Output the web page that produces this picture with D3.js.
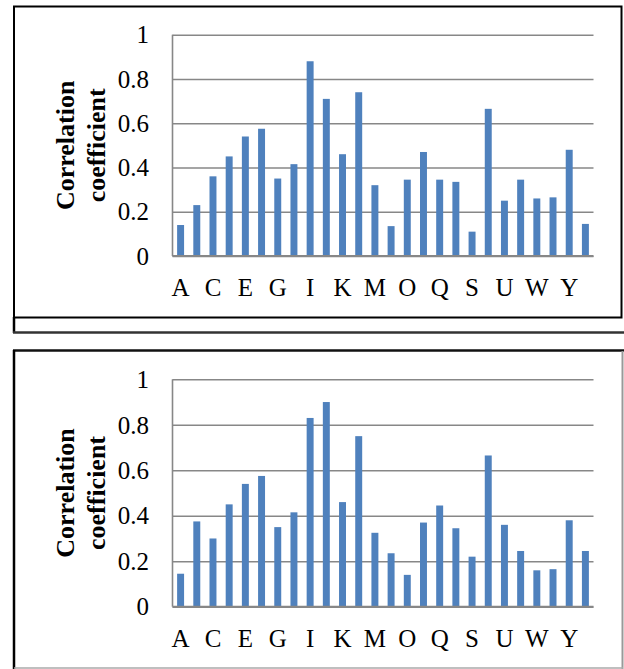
<!DOCTYPE html>
<html>
<head>
<meta charset="utf-8">
<script src="https://cdn.jsdelivr.net/npm/d3@7"></script>
<style>
  html, body { margin: 0; padding: 0; background: #fff; }
  svg { display: block; font-family: "Liberation Serif", "Times New Roman", serif; }
</style>
</head>
<body>
<svg id="chart" width="624" height="669"></svg>
<script>
// amino acid letters, one bar each
var categories = ["A","B","C","D","E","F","G","H","I","J","K","L","M",
                  "N","O","P","Q","R","S","T","U","V","W","X","Y","Z"];

// upper panel
var corrTop = [0.14, 0.23, 0.36, 0.45, 0.54, 0.575, 0.35, 0.415, 0.88, 0.71, 0.46, 0.74, 0.32,
               0.135, 0.345, 0.47, 0.345, 0.335, 0.11, 0.665, 0.25, 0.345, 0.26, 0.265, 0.48, 0.145];

// lower panel
var corrBottom = [0.145, 0.375, 0.30, 0.45, 0.54, 0.575, 0.35, 0.415, 0.83, 0.90, 0.46, 0.75, 0.325,
                  0.235, 0.14, 0.37, 0.445, 0.345, 0.22, 0.665, 0.36, 0.245, 0.16, 0.165, 0.38, 0.245];

var yTicks = [0, 0.2, 0.4, 0.6, 0.8, 1];
var yTickLabels = ["0", "0.2", "0.4", "0.6", "0.8", "1"];
var yTitle = ["Correlation", "coefficient"];

var svg = d3.select("#chart");

var plotLeft = 172.5, plotRight = 593.5;

var x = d3.scaleBand()
  .domain(categories)
  .range([plotLeft, plotRight])
  .paddingInner(0.57)
  .paddingOuter(0.285);

function drawPanel(values, top, bottom) {
  var y = d3.scaleLinear().domain([0, 1]).range([bottom, top]);
  var g = svg.append("g");

  // gridlines
  g.append("g")
    .attr("transform", "translate(" + plotLeft + ",0)")
    .call(d3.axisLeft(y).tickValues(yTicks).tickSize(-(plotRight - plotLeft)).tickFormat(""))
    .call(function (a) {
      a.select(".domain").remove();
      a.selectAll("line").attr("stroke", "#878787").attr("stroke-width", 1.6);
    });

  // vertical axis line
  g.append("line")
    .attr("x1", plotLeft).attr("x2", plotLeft)
    .attr("y1", y(1)).attr("y2", y(0))
    .attr("stroke", "#878787").attr("stroke-width", 1.6);

  g.append("g")
    .selectAll("rect")
    .data(values)
    .enter().append("rect")
    .attr("x", function (d, i) { return x(categories[i]); })
    .attr("y", function (d) { return y(d); })
    .attr("width", x.bandwidth())
    .attr("height", function (d) { return y(0) - y(d); })
    .attr("fill", "#4f81bd");

  // base line drawn over the bars
  g.append("line")
    .attr("x1", plotLeft).attr("x2", plotRight)
    .attr("y1", y(0)).attr("y2", y(0))
    .attr("stroke", "#878787").attr("stroke-width", 1.8);

  // y tick labels
  g.append("g")
    .attr("transform", "translate(149,0)")
    .call(d3.axisLeft(y).tickValues(yTicks).tickSize(0).tickPadding(0)
      .tickFormat(function (d, i) { return yTickLabels[i]; }))
    .call(function (a) {
      a.select(".domain").remove();
      a.selectAll("text")
        .attr("font-family", "Liberation Serif, Times New Roman, serif")
        .attr("font-size", 25)
        .attr("fill", "#000")
        .attr("dy", "0.33em");
    });

  // x tick labels, every other letter like Excel does
  g.append("g")
    .attr("transform", "translate(0," + y(0) + ")")
    .call(d3.axisBottom(x)
      .tickValues(categories.filter(function (d, i) { return i % 2 === 0; }))
      .tickSize(0))
    .call(function (a) {
      a.select(".domain").remove();
      a.selectAll("text")
        .attr("font-family", "Liberation Serif, Times New Roman, serif")
        .attr("font-size", 25)
        .attr("fill", "#000")
        .attr("y", 40)
        .attr("dy", 0);
    });

  // rotated two line title
  var cy = (y(0) + y(1)) / 2;
  g.append("text")
    .attr("transform", "translate(74," + cy + ") rotate(-90)")
    .attr("text-anchor", "middle")
    .attr("font-weight", "bold")
    .attr("font-size", 26)
    .text(yTitle[0]);
  g.append("text")
    .attr("transform", "translate(105," + cy + ") rotate(-90)")
    .attr("text-anchor", "middle")
    .attr("font-weight", "bold")
    .attr("font-size", 26)
    .text(yTitle[1]);
}

// frames around the two figures
svg.append("rect")
  .attr("x", 14).attr("y", 6.5).attr("width", 607.5).attr("height", 311)
  .attr("fill", "none").attr("stroke", "#000").attr("stroke-width", 2);
svg.append("line")
  .attr("x1", 14).attr("x2", 14).attr("y1", 317).attr("y2", 333)
  .attr("stroke", "#000").attr("stroke-width", 2.5);
svg.append("line")
  .attr("x1", 13).attr("x2", 624).attr("y1", 332.5).attr("y2", 332.5)
  .attr("stroke", "#333").attr("stroke-width", 2.5);

svg.append("line")
  .attr("x1", 13).attr("x2", 624).attr("y1", 350.5).attr("y2", 350.5)
  .attr("stroke", "#111").attr("stroke-width", 2.5);
svg.append("line")
  .attr("x1", 14).attr("x2", 14).attr("y1", 350).attr("y2", 669)
  .attr("stroke", "#000").attr("stroke-width", 2.5);
svg.append("line")
  .attr("x1", 622.5).attr("x2", 622.5).attr("y1", 351).attr("y2", 669)
  .attr("stroke", "#999").attr("stroke-width", 2);
svg.append("line")
  .attr("x1", 14).attr("x2", 623).attr("y1", 668).attr("y2", 668)
  .attr("stroke", "#aaa").attr("stroke-width", 1.5);

drawPanel(corrTop, 34.7, 256);
drawPanel(corrBottom, 379.3, 606.7);
</script>
</body>
</html>
